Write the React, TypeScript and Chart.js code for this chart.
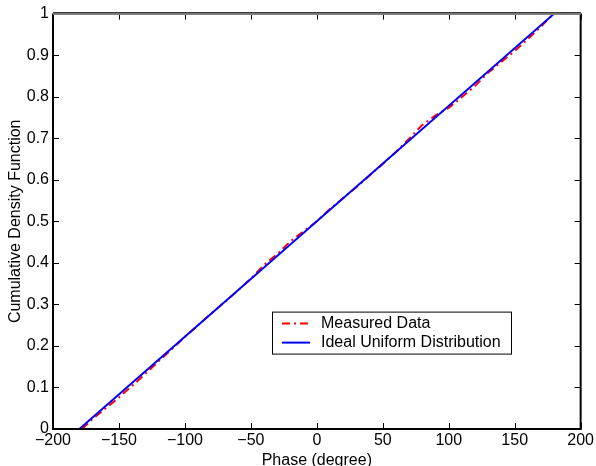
import { useEffect, useRef } from 'react';
import { Chart, registerables } from 'chart.js';

Chart.register(...registerables);

// ---- data ----
const measuredPhase = [-178, -170, -160, -150, -140, -130, -120, -110, -100, -90, -80, -70, -60, -50, -40, -30, -20, -10, 0, 10, 20, 30, 40, 50, 60, 70, 80, 90, 100, 110, 120, 130, 140, 150, 160, 170, 179];
const measuredCdf = [0, 0.024, 0.05, 0.076, 0.104, 0.133, 0.163, 0.192, 0.222, 0.25, 0.278, 0.305, 0.333, 0.362, 0.395, 0.421, 0.452, 0.476, 0.5, 0.53, 0.556, 0.582, 0.61, 0.638, 0.667, 0.699, 0.732, 0.755, 0.773, 0.799, 0.826, 0.858, 0.884, 0.91, 0.939, 0.969, 0.998];
const idealPhase = [-180, 180];
const idealCdf = [0, 1];
const xTickValues = [-200, -150, -100, -50, 0, 50, 100, 150, 200];
const yTickValues = [0, 0.1, 0.2, 0.3, 0.4, 0.5, 0.6, 0.7, 0.8, 0.9, 1];
const seriesLabels = ['Measured Data', 'Ideal Uniform Distribution'];
const xTitle = 'Phase (degree)';
const yTitle = 'Cumulative Density Function';

const FONT = "'Liberation Sans', Arial, Helvetica, sans-serif";

const framePlugin = {
  id: 'matlabFrame',
  afterDraw(chart: any) {
    const { ctx, chartArea: ca, scales } = chart;
    const xs = scales.x;
    const ys = scales.y;
    const tl = 6;
    ctx.save();
    ctx.strokeStyle = '#000';
    ctx.lineWidth = 1;
    // ticks inward
    ctx.beginPath();
    xTickValues.forEach((v) => {
      const px = Math.round(xs.getPixelForValue(v)) + 0.5;
      ctx.moveTo(px, ca.bottom);
      ctx.lineTo(px, ca.bottom - tl);
      ctx.moveTo(px, ca.top);
      ctx.lineTo(px, ca.top + tl);
    });
    yTickValues.forEach((v) => {
      const py = Math.round(ys.getPixelForValue(v)) + 0.5;
      ctx.moveTo(ca.left, py);
      ctx.lineTo(ca.left + tl, py);
      ctx.moveTo(ca.right, py);
      ctx.lineTo(ca.right - tl, py);
    });
    ctx.stroke();
    // box
    ctx.lineWidth = 2;
    ctx.beginPath();
    ctx.moveTo(ca.left, ca.top);
    ctx.lineTo(ca.left, ca.bottom);
    ctx.lineTo(ca.right, ca.bottom);
    ctx.lineTo(ca.right, ca.top);
    ctx.stroke();
    ctx.strokeStyle = '#808080';
    ctx.lineWidth = 3;
    ctx.beginPath();
    ctx.moveTo(ca.left, ca.top);
    ctx.lineTo(ca.right, ca.top);
    ctx.stroke();
    ctx.strokeStyle = '#333';
    ctx.lineWidth = 1;
    ctx.beginPath();
    ctx.moveTo(ca.left, ca.top - 1);
    ctx.lineTo(ca.right, ca.top - 1);
    ctx.stroke();

    // legend
    const left = ca.left + 219;
    const top = ca.top + 298;
    const w = 239;
    const h = 42;
    ctx.fillStyle = '#fff';
    ctx.fillRect(left, top, w, h);
    ctx.strokeStyle = '#000';
    ctx.lineWidth = 1;
    ctx.strokeRect(left + 0.5, top + 0.5, w, h);
    ctx.font = `16px ${FONT}`;
    ctx.textBaseline = 'middle';
    ctx.textAlign = 'left';
    chart.data.datasets.forEach((ds: any, i: number) => {
      const cy = top + 12 + i * 19;
      ctx.save();
      ctx.strokeStyle = ds.borderColor;
      ctx.lineWidth = 2;
      ctx.setLineDash(ds.borderDash || []);
      ctx.beginPath();
      ctx.moveTo(left + 10, cy);
      ctx.lineTo(left + 38, cy);
      ctx.stroke();
      ctx.restore();
      ctx.fillStyle = '#000';
      ctx.fillText(ds.label, left + 49, cy);
    });
    ctx.restore();
  },
};

export default function App() {
  const ref = useRef<HTMLCanvasElement | null>(null);
  useEffect(() => {
    if (!ref.current) return;
    const chart = new Chart(ref.current, {
      type: 'line',
      data: {
        datasets: [
          {
            label: seriesLabels[0],
            data: measuredPhase.map((x, i) => ({ x, y: measuredCdf[i] })),
            borderColor: '#ff0000',
            borderWidth: 2,
            borderDash: [8, 4, 2, 4],
            pointRadius: 0,
            fill: false,
            tension: 0,
            order: 1,
          },
          {
            label: seriesLabels[1],
            data: idealPhase.map((x, i) => ({ x, y: idealCdf[i] })),
            borderColor: '#0000ff',
            borderWidth: 2,
            pointRadius: 0,
            fill: false,
            tension: 0,
            order: 0,
          },
        ],
      },
      options: {
        responsive: false,
        animation: false,
        events: [],
        layout: { padding: { left: 0, right: 15, top: 13, bottom: 0 } },
        plugins: {
          legend: { display: false },
          tooltip: { enabled: false },
          title: { display: false },
        },
        scales: {
          x: {
            type: 'linear',
            min: -200,
            max: 200,
            afterFit: (s: any) => { s.height = 37; },
            afterBuildTicks: (s: any) => { s.ticks = xTickValues.map((v) => ({ value: v })); },
            grid: { display: false, drawTicks: false },
            border: { display: false },
            ticks: {
              padding: 2,
              color: '#000',
              font: { family: FONT, size: 16 },
              maxRotation: 0,
              autoSkip: false,
              callback: (v: any) => (v < 0 ? '\u2212' + Math.abs(v) : String(v)),
            },
            title: {
              display: true,
              text: xTitle,
              color: '#000',
              font: { family: FONT, size: 16 },
              padding: { top: 0, bottom: -4 },
            },
          },
          y: {
            type: 'linear',
            min: 0,
            max: 1,
            afterFit: (s: any) => { s.width = 53; },
            afterBuildTicks: (s: any) => { s.ticks = yTickValues.map((v) => ({ value: v })); },
            grid: { display: false, drawTicks: false },
            border: { display: false },
            ticks: {
              padding: 4,
              color: '#000',
              font: { family: FONT, size: 16 },
              autoSkip: false,
              callback: (v: any) => String(Math.round(v * 10) / 10),
            },
            title: {
              display: true,
              text: yTitle,
              color: '#000',
              font: { family: FONT, size: 16 },
              padding: { top: 6, bottom: 0 },
            },
          },
        },
      },
      plugins: [framePlugin],
    });
    return () => chart.destroy();
  }, []);
  return (
    <div style={{ position: 'fixed', left: 0, top: 0, width: 596, height: 466, background: '#fff' }}>
      <canvas ref={ref} width={596} height={466} style={{ display: 'block' }} />
    </div>
  );
}
